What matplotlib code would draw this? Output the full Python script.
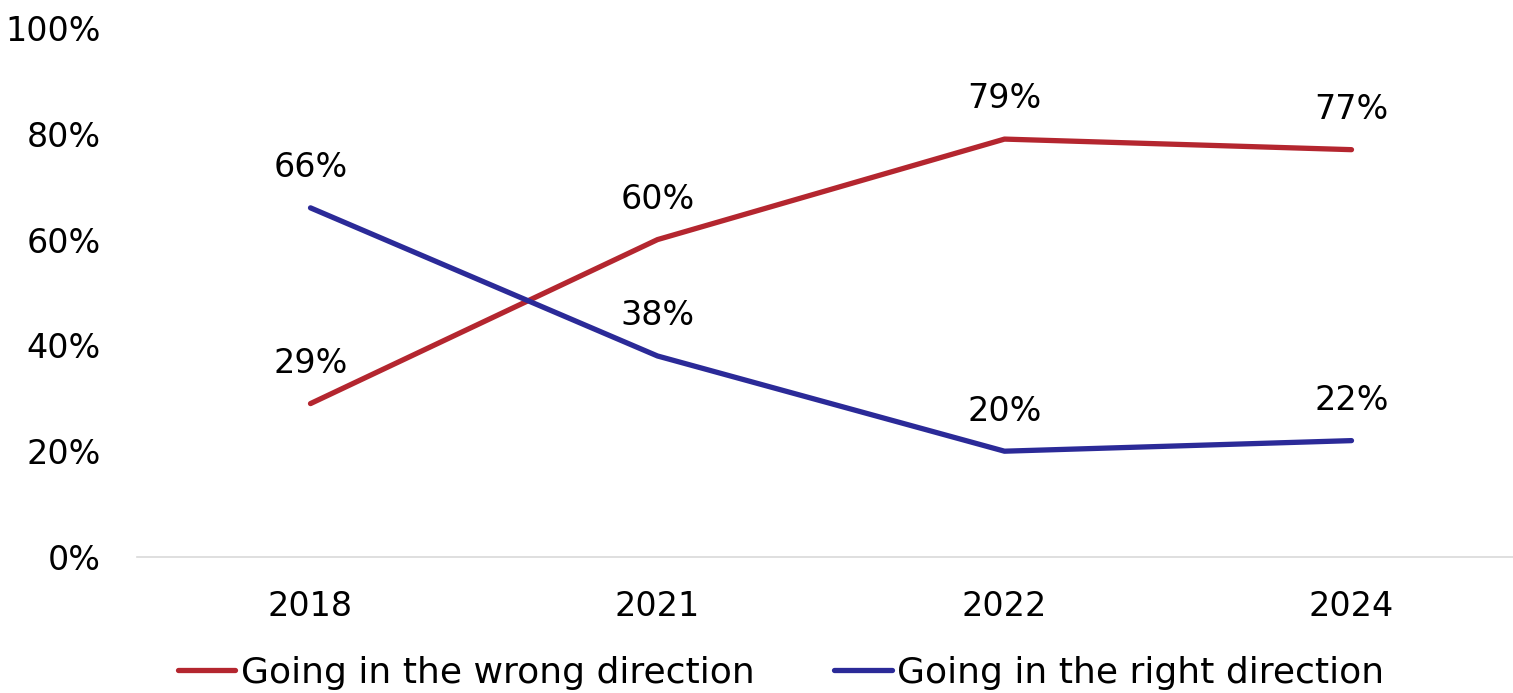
import matplotlib.pyplot as plt
from matplotlib.ticker import PercentFormatter

years = ["2018", "2021", "2022", "2024"]
wrong = [29, 60, 79, 77]
right = [66, 38, 20, 22]

red = "#B4262F"
blue = "#2B2A98"

plt.rcParams['font.family'] = ['DejaVu Sans']

fig = plt.figure(figsize=(15.13, 6.93), dpi=100)
ax = fig.add_axes([137/1513, 1 - 557/693, (1525 - 137)/1513, (557 - 28)/693])

x = list(range(len(years)))
ax.plot(x, wrong, color=red, lw=3.8, solid_capstyle='round', label="Going in the wrong direction")
ax.plot(x, right, color=blue, lw=3.8, solid_capstyle='round', label="Going in the right direction")

for xi, v in zip(x, wrong):
    ax.annotate(f"{v}%", (xi, v), xytext=(0, 17), textcoords='offset points',
                ha='center', va='bottom', fontsize=24)
for xi, v in zip(x, right):
    ax.annotate(f"{v}%", (xi, v), xytext=(0, 17), textcoords='offset points',
                ha='center', va='bottom', fontsize=24)

ax.set_xlim(-0.5, 3.5)
ax.set_ylim(0, 100)
ax.set_yticks([0, 20, 40, 60, 80, 100])
ax.yaxis.set_major_formatter(PercentFormatter(decimals=0))
ax.set_xticks(x)
ax.set_xticklabels(years)
ax.tick_params(axis='both', length=0, labelsize=24)
ax.tick_params(axis='y', pad=26)
ax.tick_params(axis='x', pad=24)

for s in ['top', 'right', 'left']:
    ax.spines[s].set_visible(False)
ax.spines['bottom'].set_color('#D9D9D9')
ax.spines['bottom'].set_linewidth(1.2)

fig.legend(loc='lower left', bbox_to_anchor=(145/1513, -0.042), ncol=2, frameon=False,
           fontsize=26, handlelength=1.6, handletextpad=0.15, columnspacing=2.2)

fig.savefig("out.png", dpi=100)
